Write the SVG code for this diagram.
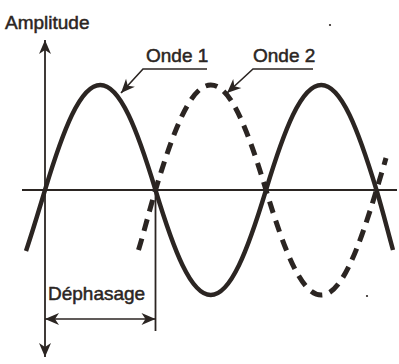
<svg xmlns="http://www.w3.org/2000/svg" width="399" height="364" viewBox="0 0 399 364">
<style>
.lbl{font-family:"Liberation Sans",Arial,sans-serif;font-size:19px;fill:#2b2522;stroke:#2b2522;stroke-width:0.5px}
.ax{stroke:#2b2522;stroke-width:1.8;fill:none}
.wave{stroke:#2b2522;stroke-width:4.4;fill:none;stroke-linecap:butt}
.dash{stroke-dasharray:12 8;stroke-width:5}
.lead{stroke:#2b2522;stroke-width:1.6;fill:none}
</style>
<defs>
<marker id="ah" viewBox="-15 -7 17 14" refX="0" refY="0" markerWidth="17" markerHeight="14" markerUnits="userSpaceOnUse" orient="auto-start-reverse">
<path d="M0,0 L-14,-6 L-10,0 L-14,6 Z" fill="#2b2522"/>
</marker>
</defs>
<g id="axes">
<line id="y-axis" class="ax" x1="45" y1="357" x2="45" y2="40" marker-start="url(#ah)" marker-end="url(#ah)"/>
<line id="x-axis" class="ax" x1="22" y1="190" x2="397" y2="190"/>
</g>
<g id="onde1">
<path class="wave" d="M26,251 C32,233 39,210 45,190 C63.2,130 80.2,85 100.25,85 S137.3,130 155.5,190 S190.7,295 210.75,295 S247.8,250 266,190 S301.2,85 321.25,85 S358.3,130 376.5,190 C382.5,210 388,232 393,250"/>
</g>
<g id="onde2">
<path class="wave dash" d="M138.5,250 C144,232 149.5,210 155.5,190 C173.7,130 190.7,85 210.75,85 S247.8,130 266,190 S301.2,295 321.25,295 S358.3,250 376.5,190 C379.5,180 383.5,167 386,158"/>
</g>
<g id="connectors">
<path class="lead" d="M207,69 L143,69 L121,93" marker-end="url(#ah)"/>
<path class="lead" d="M313,69 L253,69 L227,93" marker-end="url(#ah)"/>
<line class="ax" x1="155.5" y1="190" x2="155.5" y2="331"/>
<line class="lead" x1="45" y1="319" x2="155.5" y2="319" marker-start="url(#ah)" marker-end="url(#ah)"/>
</g>
<g id="labels">
<text class="lbl" x="5" y="29">Amplitude</text>
<text class="lbl" x="146" y="62">Onde 1</text>
<text class="lbl" x="253" y="62">Onde 2</text>
<text class="lbl" x="48" y="300">Déphasage</text>
</g>
<circle cx="330" cy="25" r="1.1" fill="#2b2522"/>
<circle cx="367" cy="296" r="1.1" fill="#2b2522"/>
</svg>
